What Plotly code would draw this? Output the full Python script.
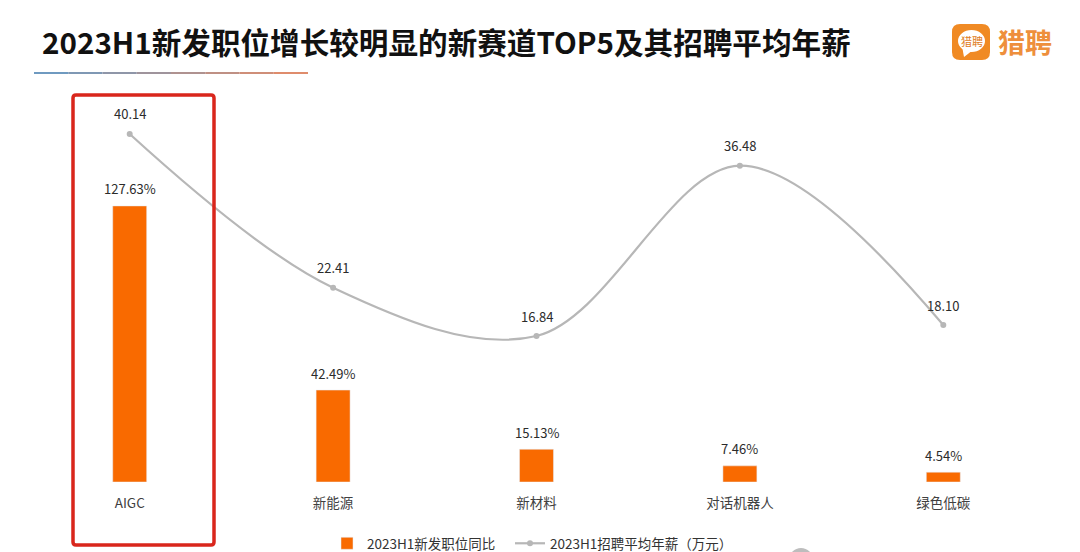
import plotly.graph_objects as go

categories = ['AIGC', '新能源', '新材料', '对话机器人', '绿色低碳']
growth_pct = [127.63, 42.49, 15.13, 7.46, 4.54]
avg_salary = [40.14, 22.41, 16.84, 36.48, 18.10]

ORANGE = '#f96a00'
GREY = '#b7b7b7'
FONT = 'Noto Sans CJK SC'
W, H = 1080, 552
# plot area in pixels
L, R, T, B = 28, 1045, 100, 482


def px(x):
    return (x - L) / (R - L)


def py(y):
    return (B - y) / (B - T)


def rounded(x0, y0, x1, y1, r):
    a, b, c, d = px(x0), px(x1), py(y0), py(y1)
    rx, ry = r / (R - L), r / (B - T)
    return (f'M{a + rx},{c} L{b - rx},{c} Q{b},{c} {b},{c - ry} L{b},{d + ry} Q{b},{d} {b - rx},{d} '
            f'L{a + rx},{d} Q{a},{d} {a},{d + ry} L{a},{c - ry} Q{a},{c} {a + rx},{c} Z')


fig = go.Figure()
fig.add_bar(x=categories, y=growth_pct, name='2023H1新发职位同比',
            marker_color=ORANGE, width=0.167, legend='legend')
fig.add_scatter(x=categories, y=avg_salary, name='2023H1招聘平均年薪（万元）', yaxis='y2',
                mode='lines+markers', line=dict(color=GREY, width=2.2, shape='spline', smoothing=1.0),
                marker=dict(color=GREY, size=6), legend='legend2')

for c, v in zip(categories, growth_pct):
    fig.add_annotation(x=c, y=v, yref='y', text=f'{v:.2f}%', showarrow=False,
                       yshift=17, font=dict(size=13, color='#2b2b2b'))
for c, v in zip(categories, avg_salary):
    fig.add_annotation(x=c, y=v, yref='y2', text=f'{v:.2f}', showarrow=False,
                       yshift=20, font=dict(size=13, color='#2b2b2b'))

# title
fig.add_annotation(xref='paper', yref='paper', x=px(42), y=py(41), xanchor='left', yanchor='middle',
                   showarrow=False, xshift=-2,
                   text='<b>2023H1新发职位增长较明显的新赛道TOP5及其招聘平均年薪</b>',
                   font=dict(size=29.6, color='#111111'))

# underline, blue fading to orange
line_cols = ['#6f9ac0', '#7f98b4', '#8f96a8', '#9f949c', '#af9290', '#bf9084', '#cf8e78', '#df8c6c']
seg = (308 - 34) / len(line_cols)
for i, col in enumerate(line_cols):
    fig.add_shape(type='rect', xref='paper', yref='paper', x0=px(34 + i * seg), x1=px(34 + (i + 1) * seg),
                  y0=py(72), y1=py(74), fillcolor=col, line_width=0)

# red highlight box
fig.add_shape(type='path', xref='paper', yref='paper', path=rounded(73, 95, 214, 545, 3),
              line=dict(color='#d9261c', width=3.5), fillcolor='rgba(0,0,0,0)')

# logo
fig.add_shape(type='path', xref='paper', yref='paper', path=rounded(952, 24, 990, 60, 8),
              fillcolor='#f08a24', line_width=0)
fig.add_shape(type='circle', xref='paper', yref='paper', x0=px(958), x1=px(985), y0=py(30), y1=py(52),
              fillcolor='white', line_width=0)
fig.add_shape(type='path', xref='paper', yref='paper', fillcolor='white', line_width=0,
              path=f'M{px(962)},{py(46)} L{px(973)},{py(50)} L{px(964)},{py(57)} Z')
fig.add_annotation(xref='paper', yref='paper', x=px(971.5), y=py(41), xanchor='center', yanchor='middle',
                   showarrow=False, text='猎聘', font=dict(size=11, color='#e07c22'))
fig.add_annotation(xref='paper', yref='paper', x=px(1025), y=py(42), xanchor='center', yanchor='middle',
                   showarrow=False, text='<b>猎聘</b>', font=dict(size=27, color='#ee8f3c'))

# grey watermark corner
fig.add_shape(type='circle', xref='paper', yref='paper', x0=px(789), x1=px(813), y0=py(548), y1=py(572),
              fillcolor='#bdbdbd', line_width=0)

legend_style = dict(orientation='h', xref='paper', yref='paper', y=py(528), xanchor='left', yanchor='top',
                    font=dict(size=13.5, color='#333333'), bgcolor='rgba(0,0,0,0)', itemwidth=30)

fig.update_layout(
    width=W, height=H,
    margin=dict(l=L, r=W - R, t=T, b=H - B, pad=0, autoexpand=False),
    paper_bgcolor='white', plot_bgcolor='white',
    font=dict(family=FONT, size=12, color='#333333'),
    xaxis=dict(showgrid=False, showline=False, zeroline=False, ticks='', ticklabelstandoff=11,
               tickfont=dict(size=13.5, color='#404040')),
    yaxis=dict(visible=False, range=[0, 176.6]),
    yaxis2=dict(visible=False, range=[0, 44.06], overlaying='y'),
    legend=dict(x=px(327), **legend_style),
    legend2=dict(x=px(510), **legend_style),
    showlegend=True,
)

fig.write_html('out.html', post_script="document.body.style.margin='0';", config={'displayModeBar': False})
